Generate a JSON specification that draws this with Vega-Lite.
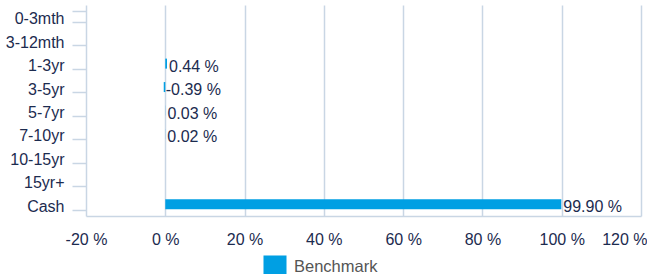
{
  "$schema": "https://vega.github.io/schema/vega-lite/v6.json",
  "autosize": {"type": "none"},
  "width": 555,
  "height": 211,
  "padding": {"left": 86, "top": 5, "right": 6, "bottom": 58},
  "background": "white",
  "config": {
    "font": "Liberation Sans",
    "view": {"stroke": null}
  },
  "data": {
    "values": [
      {"bucket": "0-3mth", "value": null, "series": "Benchmark"},
      {"bucket": "3-12mth", "value": null, "series": "Benchmark"},
      {"bucket": "1-3yr", "value": 0.44, "series": "Benchmark"},
      {"bucket": "3-5yr", "value": -0.39, "series": "Benchmark"},
      {"bucket": "5-7yr", "value": 0.03, "series": "Benchmark"},
      {"bucket": "7-10yr", "value": 0.02, "series": "Benchmark"},
      {"bucket": "10-15yr", "value": null, "series": "Benchmark"},
      {"bucket": "15yr+", "value": null, "series": "Benchmark"},
      {"bucket": "Cash", "value": 99.9, "series": "Benchmark"}
    ]
  },
  "encoding": {
    "y": {
      "field": "bucket",
      "type": "nominal",
      "sort": null,
      "title": null,
      "scale": {
        "domain": ["0-3mth", "3-12mth", "1-3yr", "3-5yr", "5-7yr", "7-10yr", "10-15yr", "15yr+", "Cash"],
        "paddingInner": 0.55,
        "paddingOuter": 0.275
      },
      "axis": {
        "tickBand": "extent",
        "domain": false,
        "tickColor": "#c9d6e4",
        "tickSize": 14,
        "tickWidth": 1.5,
        "labelPadding": 8,
        "labelOffset": 2,
        "labelFontSize": 16,
        "labelColor": "#1c2b4f",
        "grid": false
      }
    }
  },
  "layer": [
    {
      "mark": {"type": "bar", "color": "#009fe3", "size": 10},
      "encoding": {
        "x": {
          "field": "value",
          "type": "quantitative",
          "title": null,
          "scale": {"domain": [-20, 120], "nice": false, "zero": false},
          "axis": {
            "values": [-20, 0, 20, 40, 60, 80, 100, 120],
            "labelExpr": "datum.value + ' %'",
            "labelFontSize": 16,
            "labelColor": "#1c2b4f",
            "labelPadding": 15,
            "labelAlign": {"condition": {"test": "datum.value == 120", "value": "right"}, "value": "center"},
            "labelOffset": {"condition": {"test": "datum.value == 120", "value": 6}, "value": 0},
            "ticks": false,
            "gridColor": "#c9d6e4",
            "gridWidth": 1.5,
            "domainColor": "#c9d6e4",
            "domainWidth": 1.5,
            "labelFlush": false
          }
        },
        "color": {
          "field": "series",
          "type": "nominal",
          "scale": {"range": ["#009fe3"]},
          "legend": {
            "orient": "none",
            "legendX": 177,
            "legendY": 250,
            "direction": "horizontal",
            "title": null,
            "symbolType": "square",
            "symbolSize": 530,
            "symbolStrokeWidth": 0,
            "labelFontSize": 16.5,
            "labelColor": "#555555",
            "labelOffset": 7
          }
        }
      }
    },
    {
      "transform": [
        {"filter": "datum.value != null"},
        {"calculate": "replace(format(datum.value, '.2f'), '\u2212', '-') + ' %'", "as": "label"}
      ],
      "mark": {"type": "text", "align": "left", "baseline": "middle", "dx": 2, "dy": 3, "fontSize": 16, "color": "#1c2b4f"},
      "encoding": {
        "x": {"field": "value", "type": "quantitative"},
        "text": {"field": "label", "type": "nominal"}
      }
    }
  ]
}
